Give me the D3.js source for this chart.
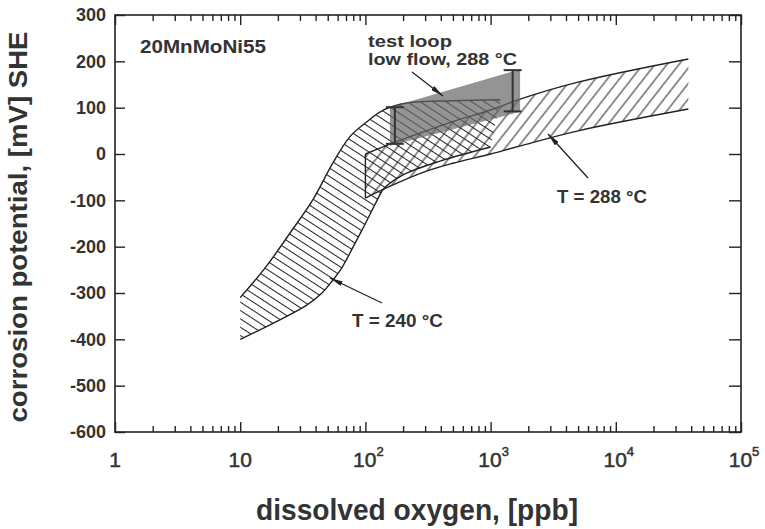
<!DOCTYPE html>
<html>
<head>
<meta charset="utf-8">
<script src="https://cdn.jsdelivr.net/npm/d3@7"></script>
<style>
  body { margin: 0; background: #fff; }
  text { font-family: "Liberation Sans", Arial, sans-serif; fill: #333; }
</style>
</head>
<body>
<script>
// values: [dissolved oxygen ppb, potential mV SHE]
const band240Upper = [[10,-310],[16,-244],[26,-164],[38,-99],[55,-19],[75,37],[100,67],[140,95],[215,110],[500,115],[1200,117]];
const band240Lower = [[10,-400],[20,-360],[34,-326],[45,-300],[55,-272],[65,-245],[80,-200],[100,-150],[124,-100],[140,-75],[200,-45],[400,-15],[1000,15]];
const band288Upper = [[100,0],[200,32],[500,70],[1000,95],[1700,118],[5000,155],[38000,205]];
const band288Lower = [[100,-95],[150,-72],[300,-38],[500,-20],[1000,0],[1700,17],[5000,50],[38000,97]];
const loopTop = [[157,101],[1720,183]];
const loopBottom = [[157,18],[1720,91]];
const loopBars = [{o: 172, lo: 22, hi: 101}, {o: 1500, lo: 92, hi: 181}];

const xTicks = [1, 10, 100, 1000, 10000, 100000];
const xTickLabels = [["1",""],["10",""],["10","2"],["10","3"],["10","4"],["10","5"]];
const yTicks = [300, 200, 100, 0, -100, -200, -300, -400, -500, -600];

const W = 765, H = 529;
const plot = {left: 115, right: 741, top: 15, bottom: 432};

const svg = d3.select('body').append('svg')
    .attr('width', W).attr('height', H);

const x = d3.scaleLog().domain([1, 1e5]).range([plot.left, plot.right]);
const y = d3.scaleLinear().domain([-600, 300]).range([plot.bottom, plot.top]);

// hatch patterns
const defs = svg.append('defs');
function hatch(id, gap, angle) {
    const p = defs.append('pattern')
        .attr('id', id)
        .attr('patternUnits', 'userSpaceOnUse')
        .attr('width', 20).attr('height', gap)
        .attr('patternTransform', 'rotate(' + angle + ')');
    p.append('line')
        .attr('x1', 0).attr('x2', 20)
        .attr('y1', gap / 2).attr('y2', gap / 2)
        .attr('stroke', '#222').attr('stroke-width', 1);
}
hatch('h240', 7, 33);
hatch('h288', 9.5, -52);

defs.append('marker')
    .attr('id', 'arrow')
    .attr('viewBox', '0 0 13 5')
    .attr('refX', 13).attr('refY', 2.5)
    .attr('markerWidth', 13).attr('markerHeight', 5)
    .attr('markerUnits', 'userSpaceOnUse')
    .attr('orient', 'auto')
  .append('path')
    .attr('d', 'M0,0 L13,2.5 L0,5 Z')
    .attr('fill', '#222');

const line = d3.line()
    .x(d => x(d[0])).y(d => y(d[1]))
    .curve(d3.curveCatmullRom.alpha(0.5));

function bandPath(upper, lower) {
    const back = line(lower.slice().reverse()).replace(/^M/, 'L');
    return line(upper) + back + 'Z';
}

// T = 240 band
svg.append('path')
    .attr('d', bandPath(band240Upper, band240Lower))
    .attr('fill', 'url(#h240)');
// T = 288 band
svg.append('path')
    .attr('d', bandPath(band288Upper, band288Lower))
    .attr('fill', 'url(#h288)');

const outline = svg.append('g')
    .attr('fill', 'none').attr('stroke', '#222').attr('stroke-width', 1.4);
outline.append('path').attr('d', line(band240Upper));
outline.append('path').attr('d', line(band240Lower));
outline.append('path').attr('d', line(band288Upper));
outline.append('path').attr('d', line(band288Lower));
outline.append('line')
    .attr('x1', x(band288Upper[0][0])).attr('x2', x(band288Lower[0][0]))
    .attr('y1', y(band288Upper[0][1])).attr('y2', y(band288Lower[0][1]));

// test loop, low flow
const loopPts = loopTop.concat(loopBottom.slice().reverse());
svg.append('path')
    .attr('d', 'M' + loopPts.map(d => x(d[0]) + ',' + y(d[1])).join('L') + 'Z')
    .attr('fill', '#666').attr('fill-opacity', 0.7);

const bars = svg.append('g').attr('stroke', '#333').attr('stroke-width', 2);
loopBars.forEach(b => {
    bars.append('line')
        .attr('x1', x(b.o)).attr('x2', x(b.o))
        .attr('y1', y(b.lo)).attr('y2', y(b.hi));
    [b.lo, b.hi].forEach(v => {
        bars.append('line')
            .attr('x1', x(b.o) - 9).attr('x2', x(b.o) + 9)
            .attr('y1', y(v)).attr('y2', y(v));
    });
});

// frame and ticks
svg.append('rect')
    .attr('x', plot.left).attr('y', plot.top)
    .attr('width', plot.right - plot.left).attr('height', plot.bottom - plot.top)
    .attr('fill', 'none').attr('stroke', '#222').attr('stroke-width', 1.6);

const minor = [];
for (let e = 0; e < 5; e++) {
    for (let m = 2; m < 10; m++) minor.push(m * Math.pow(10, e));
}

function ticks(gen, values, size, transform) {
    svg.append('g')
        .attr('transform', transform)
        .call(gen.tickValues(values).tickSize(size).tickFormat(''))
        .call(g => g.select('.domain').remove())
        .call(g => g.selectAll('line').attr('stroke', '#222').attr('stroke-width', 1.4));
}
ticks(d3.axisBottom(x), minor, -6, 'translate(0,' + plot.bottom + ')');
ticks(d3.axisBottom(x), xTicks, -10, 'translate(0,' + plot.bottom + ')');
ticks(d3.axisTop(x), minor, -6, 'translate(0,' + plot.top + ')');
ticks(d3.axisTop(x), xTicks, -10, 'translate(0,' + plot.top + ')');
ticks(d3.axisLeft(y), yTicks, -10, 'translate(' + plot.left + ',0)');
ticks(d3.axisRight(y), yTicks, -12, 'translate(' + plot.right + ',0)');

// tick labels
svg.append('g').selectAll('text')
    .data(yTicks).enter().append('text')
    .attr('x', 106).attr('y', d => y(d)).attr('dy', '0.36em')
    .attr('text-anchor', 'end')
    .attr('font-size', 18).attr('font-weight', 'bold')
    .text(d => d);

const xl = svg.append('g').selectAll('text')
    .data(xTicks).enter().append('text')
    .attr('x', (d, i) => x(d) + (xTickLabels[i][1] ? 3 : 0))
    .attr('y', 467)
    .attr('text-anchor', 'middle')
    .attr('font-size', 21)
    .attr('stroke', '#333').attr('stroke-width', 0.5);
xl.append('tspan').text((d, i) => xTickLabels[i][0]);
xl.append('tspan')
    .attr('font-size', 13).attr('dy', -11)
    .text((d, i) => xTickLabels[i][1]);

// axis titles
svg.append('text')
    .attr('transform', 'translate(27,' + 227 + ') rotate(-90)')
    .attr('text-anchor', 'middle')
    .attr('font-size', 26).attr('font-weight', 'bold')
    .attr('textLength', 391).attr('lengthAdjust', 'spacingAndGlyphs')
    .text('corrosion potential, [mV] SHE');

svg.append('text')
    .attr('x', 417).attr('y', 520)
    .attr('text-anchor', 'middle')
    .attr('font-size', 30).attr('font-weight', 'bold')
    .attr('textLength', 322).attr('lengthAdjust', 'spacingAndGlyphs')
    .text('dissolved oxygen, [ppb]');

// annotations
function note(str, px, py, len, size) {
    svg.append('text')
        .attr('x', px).attr('y', py)
        .attr('font-size', size).attr('font-weight', 'bold')
        .attr('textLength', len).attr('lengthAdjust', 'spacingAndGlyphs')
        .text(str);
}
note('20MnMoNi55', 140, 53, 126, 18);
note('test loop', 368, 47, 84, 16);
note('low flow, 288 °C', 368, 65, 149, 16);
note('T = 288 °C', 557, 203, 90, 18);
note('T = 240 °C', 352, 327, 91, 18);

function arrow(x1, y1, x2, y2) {
    svg.append('line')
        .attr('x1', x1).attr('y1', y1).attr('x2', x2).attr('y2', y2)
        .attr('stroke', '#222').attr('stroke-width', 1.3)
        .attr('marker-end', 'url(#arrow)');
}
arrow(412, 72, 443, 96);
arrow(588, 178, 548, 134);
arrow(382, 303, 330, 278);
</script>
</body>
</html>
